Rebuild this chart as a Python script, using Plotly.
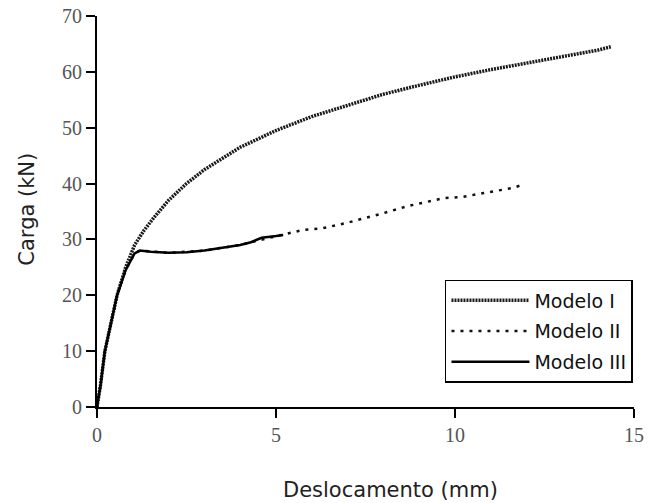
import plotly.graph_objects as go

# Data
m1_x = [0, 0.1, 0.22, 0.4, 0.56, 0.8, 1.05, 1.3, 1.6, 2.0, 2.5, 3.0, 3.5, 4.0, 4.5, 5.0,
        6.0, 7.0, 8.0, 9.0, 10.0, 11.0, 12.0, 13.0, 14.0, 14.35]
m1_y = [0, 4, 10, 15, 20, 25, 29, 31.5, 34, 37, 40, 42.5, 44.5, 46.5, 48, 49.5,
        52, 54, 56, 57.6, 59.1, 60.4, 61.6, 62.8, 63.9, 64.5]

m2_x = [0, 0.1, 0.22, 0.4, 0.56, 0.8, 1.05, 1.2, 2.0, 3.0, 4.0, 4.5, 5.2, 5.75, 6.3,
        7.0, 8.0, 8.7, 9.7, 10.2, 10.8, 11.6, 11.9]
m2_y = [0, 4, 10, 15, 20, 24.5, 27.5, 28.0, 27.6, 28.0, 29.0, 29.8, 30.8, 31.7, 32.0,
        33.0, 34.7, 36.0, 37.4, 37.6, 38.3, 39.2, 39.8]

m3_x = [0, 0.1, 0.22, 0.4, 0.56, 0.8, 1.05, 1.2, 1.5, 2.0, 2.5, 3.0, 3.5, 4.0, 4.3,
        4.6, 5.0, 5.2]
m3_y = [0, 4, 10, 15, 20, 24.5, 27.5, 28.0, 27.8, 27.6, 27.7, 28.0, 28.5, 29.0, 29.5,
        30.3, 30.6, 30.8]

x_ticks = [0, 5, 10, 15]
y_ticks = [0, 10, 20, 30, 40, 50, 60, 70]

fig = go.Figure()
fig.add_trace(go.Scatter(x=m1_x, y=m1_y, mode="lines", name="Modelo I", legendgroup="a",
                         line=dict(color="#1a1a1a", width=3.5, dash="2px,1px")))
fig.add_trace(go.Scatter(x=m2_x, y=m2_y, mode="lines", name="Modelo II", legendgroup="b",
                         line=dict(color="#111111", width=2.5, dash="3px,6px")))
fig.add_trace(go.Scatter(x=m3_x, y=m3_y, mode="lines", name="Modelo III", legendgroup="c",
                         line=dict(color="#000000", width=2.5)))

tickfont = dict(family="Liberation Serif", size=20, color="#555555")
titlefont = dict(family="DejaVu Sans", size=21, color="#222222")

fig.update_layout(
    width=648, height=503,
    margin=dict(l=97, r=14, t=16, b=96, autoexpand=False),
    paper_bgcolor="white", plot_bgcolor="white",
    showlegend=True,
    legend=dict(x=0.648, y=0.325, xanchor="left", yanchor="top",
                bgcolor="white", bordercolor="#000000", borderwidth=1.5,
                font=dict(family="DejaVu Sans", size=19, color="#111111"),
                tracegroupgap=3, traceorder="grouped", itemwidth=78,
                entrywidth=210),
    xaxis=dict(range=[0, 15], tickvals=x_ticks, showgrid=False, zeroline=False,
               showline=True, linecolor="#000000", linewidth=2,
               ticks="outside", ticklen=9, tickwidth=2, tickcolor="#000000",
               tickfont=tickfont, ticklabeloverflow="allow"),
    yaxis=dict(range=[0, 70], tickvals=y_ticks, showgrid=False, zeroline=False,
               showline=True, linecolor="#000000", linewidth=2,
               ticks="outside", ticklen=9, tickwidth=2, tickcolor="#000000",
               tickfont=tickfont, ticklabeloverflow="allow"),
    annotations=[
        dict(text="Deslocamento (mm)", xref="paper", yref="paper",
             x=0.547, y=-0.213, xanchor="center", yanchor="middle",
             showarrow=False, font=titlefont),
        dict(text="Carga (kN)", xref="paper", yref="paper", textangle=-90,
             x=-0.132, y=0.505, xanchor="center", yanchor="middle",
             showarrow=False, font=titlefont),
    ],
)

fig.write_html("out.html", config={"displayModeBar": False},
               post_script="document.body.style.margin='0';")
